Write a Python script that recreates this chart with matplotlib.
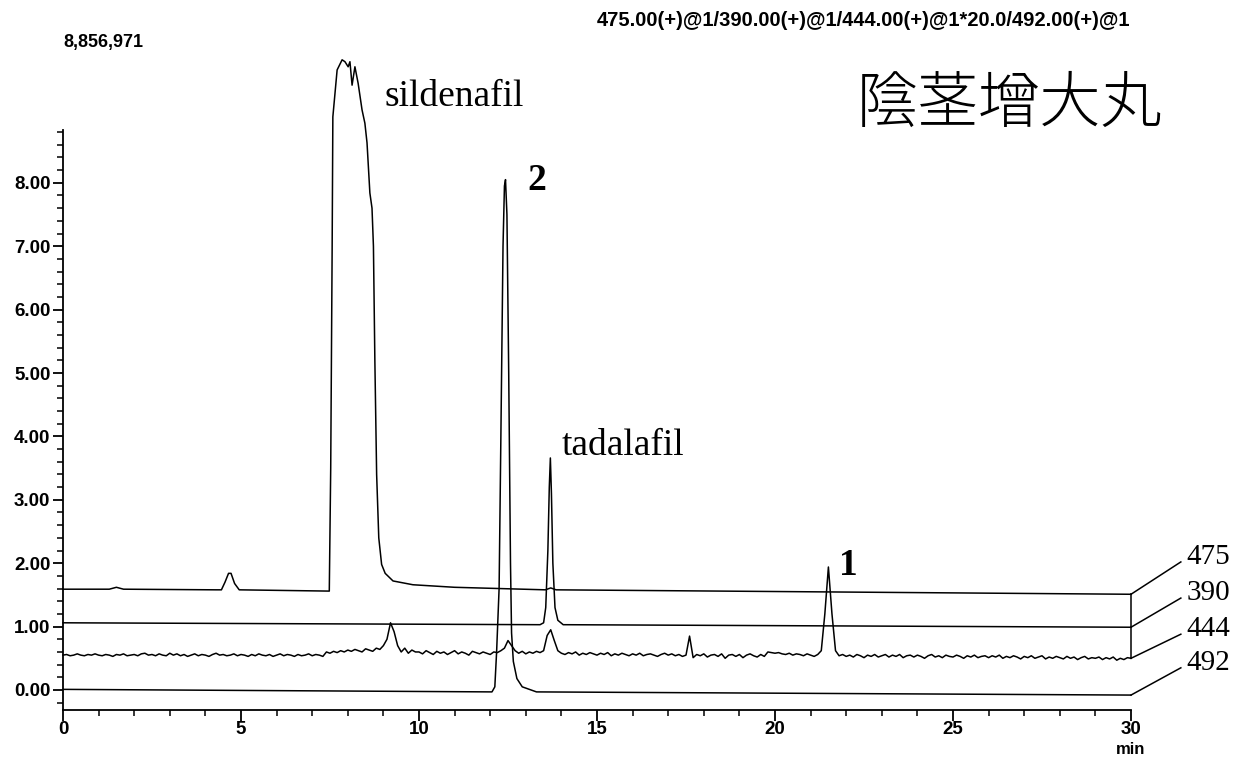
import numpy as np
import matplotlib.pyplot as plt

# --- traces (time in min, intensity x1e6 as drawn, incl. display offset) ---
# 475 (top trace, sildenafil)
t_475 = [0.0, 1.3, 1.5, 1.7, 4.3, 4.45, 4.55, 4.65, 4.72, 4.82, 4.95, 7.48,
         7.52, 7.56, 7.58, 7.70, 7.84, 7.92, 8.01, 8.06, 8.12, 8.20, 8.29,
         8.40, 8.48, 8.54, 8.62, 8.68, 8.72, 8.76, 8.81, 8.87, 8.95, 9.05,
         9.27, 9.83, 11.0, 13.55, 13.70, 13.85, 30.0]
v_475 = [1.59, 1.59, 1.62, 1.59, 1.58, 1.58, 1.70, 1.84, 1.84, 1.68, 1.58, 1.56,
         3.50, 6.94, 9.04, 9.78, 9.94, 9.91, 9.83, 9.91, 9.54, 9.83, 9.57,
         9.15, 8.94, 8.63, 7.84, 7.60, 7.00, 5.20, 3.40, 2.40, 1.98, 1.84,
         1.72, 1.66, 1.62, 1.58, 1.61, 1.58, 1.51]

# 390 (tadalafil)
t_390 = [0.0, 13.40, 13.50, 13.56, 13.62, 13.66, 13.69, 13.72, 13.76, 13.82,
         13.90, 14.05, 30.0]
v_390 = [1.06, 1.03, 1.06, 1.30, 2.20, 3.20, 3.66, 3.10, 2.00, 1.30,
         1.10, 1.03, 0.99]

# 444 (x20, noisy, peak 1) sampled every 0.1 min
t_444 = np.round(np.arange(0, 30.01, 0.1), 1)
v_444 = [
    0.55, 0.56, 0.54, 0.55, 0.57, 0.55, 0.54, 0.56, 0.55, 0.57,
    0.55, 0.54, 0.56, 0.55, 0.53, 0.56, 0.55, 0.57, 0.54, 0.55,
    0.56, 0.54, 0.57, 0.58, 0.55, 0.56, 0.54, 0.57, 0.55, 0.54,
    0.58, 0.55, 0.57, 0.54, 0.56, 0.53, 0.55, 0.57, 0.54, 0.56,
    0.55, 0.53, 0.56, 0.58, 0.55, 0.56, 0.54, 0.55, 0.57, 0.54,
    0.56, 0.55, 0.53, 0.56, 0.54, 0.57, 0.55, 0.54, 0.56, 0.53,
    0.55, 0.57, 0.54, 0.56, 0.55, 0.53, 0.56, 0.54, 0.55, 0.57,
    0.54, 0.56, 0.55, 0.53, 0.60, 0.58, 0.61, 0.59, 0.62, 0.60,
    0.63, 0.61, 0.64, 0.62, 0.60, 0.65, 0.63, 0.61, 0.66, 0.64,
    0.70, 0.80, 1.06, 0.92, 0.70, 0.60, 0.66, 0.58, 0.63, 0.60,
    0.60, 0.57, 0.62, 0.59, 0.56, 0.61, 0.58, 0.60, 0.56, 0.59,
    0.62, 0.57, 0.60, 0.58, 0.55, 0.61, 0.59, 0.57, 0.60, 0.58,
    0.56, 0.60, 0.59, 0.62, 0.66, 0.78, 0.70, 0.62, 0.58, 0.61,
    0.57, 0.60, 0.58, 0.61, 0.59, 0.62, 0.86, 0.95, 0.78, 0.62,
    0.58, 0.56, 0.59, 0.57, 0.60, 0.55, 0.58, 0.56, 0.59, 0.57,
    0.55, 0.58, 0.56, 0.59, 0.54, 0.57, 0.55, 0.58, 0.56, 0.54,
    0.57, 0.55, 0.58, 0.54, 0.56, 0.57, 0.55, 0.53, 0.56, 0.58,
    0.55, 0.57, 0.54, 0.56, 0.53, 0.55, 0.85, 0.51, 0.56, 0.54,
    0.57, 0.52, 0.55, 0.56, 0.53, 0.57, 0.50, 0.55, 0.56, 0.53,
    0.56, 0.51, 0.55, 0.57, 0.54, 0.52, 0.56, 0.53, 0.60, 0.59,
    0.58, 0.59, 0.57, 0.56, 0.58, 0.55, 0.57, 0.56, 0.54, 0.57,
    0.55, 0.53, 0.56, 0.62, 1.20, 1.94, 1.20, 0.62, 0.54, 0.56,
    0.53, 0.55, 0.52, 0.56, 0.54, 0.51, 0.55, 0.53, 0.56, 0.52,
    0.54, 0.56, 0.52, 0.55, 0.53, 0.56, 0.51, 0.54, 0.55, 0.52,
    0.55, 0.53, 0.50, 0.54, 0.56, 0.52, 0.54, 0.51, 0.55, 0.53,
    0.52, 0.55, 0.53, 0.50, 0.54, 0.52, 0.55, 0.51, 0.53, 0.54,
    0.51, 0.54, 0.52, 0.55, 0.50, 0.53, 0.51, 0.54, 0.52, 0.49,
    0.53, 0.51, 0.54, 0.50, 0.52, 0.54, 0.49, 0.52, 0.50, 0.53,
    0.51, 0.49, 0.53, 0.50, 0.52, 0.48, 0.51, 0.53, 0.49, 0.51,
    0.50, 0.52, 0.48, 0.51, 0.49, 0.52, 0.47, 0.50, 0.48, 0.51,
    0.50]

# 492 (bottom trace, peak 2)
t_492 = [0.0, 6.0, 12.05, 12.13, 12.18, 12.25, 12.30, 12.36, 12.40, 12.43,
         12.47, 12.52, 12.57, 12.60, 12.65, 12.75, 12.90, 13.3, 30.0]
v_492 = [0.01, -0.01, -0.03, 0.05, 0.60, 1.60, 4.00, 7.00, 7.95, 8.05,
         7.50, 5.00, 2.00, 0.90, 0.45, 0.18, 0.05, -0.03, -0.08]

trace_names = ["475", "390", "444", "492"]
label_y = [2.10, 1.53, 0.96, 0.43]

header = "475.00(+)@1/390.00(+)@1/444.00(+)@1*20.0/492.00(+)@1"
max_int = "8,856,971"

# --- figure ---
W, H = 1234, 760
fig = plt.figure(figsize=(W / 100, H / 100), dpi=100)
px_min = 35.6      # pixels per minute
px_unit = 63.4     # pixels per y unit
x0_px, y0_px = 63, 690
ymin, ymax = -0.32, 10.6
bot_px = y0_px - ymin * px_unit
top_px = y0_px - ymax * px_unit
ax = fig.add_axes([x0_px / W, (H - bot_px) / H, (W - x0_px) / W, (bot_px - top_px) / H])
ax.set_xlim(0, (W - x0_px) / px_min)
ax.set_ylim(ymin, ymax)

lw = 1.1
for t, v in [(t_475, v_475), (t_390, v_390), (t_444, v_444), (t_492, v_492)]:
    ax.plot(t, v, color="black", lw=lw, clip_on=False)

# right-hand box and channel labels
ends = [v_475[-1], v_390[-1], v_444[-1], v_492[-1]]
ax.plot([30, 30], [ends[0], ends[2]], color="black", lw=lw, clip_on=False)
for name, e, ly in zip(trace_names, ends, label_y):
    ax.plot([30, 31.4], [e, ly - 0.08], color="black", lw=lw, clip_on=False)
    ax.text(31.55, ly, name, fontsize=21, family="Liberation Serif",
            ha="left", va="center", clip_on=False)

# spines / ticks
for s in ["top", "right"]:
    ax.spines[s].set_visible(False)
ax.spines["left"].set_bounds(ymin, 8.83)
ax.spines["bottom"].set_bounds(0, 30)
ax.spines["left"].set_linewidth(1.3)
ax.spines["bottom"].set_linewidth(1.3)

ax.set_yticks(range(0, 9))
ax.set_yticklabels([f"{i:.2f}" for i in range(0, 9)])
ax.set_yticks([round(y, 1) for y in np.arange(-0.2, 8.85, 0.2) if abs(y - round(y)) > 0.05], minor=True)
ax.set_xticks(range(0, 31, 5))
ax.set_xticks([i for i in range(1, 30) if i % 5], minor=True)
ax.tick_params(axis="both", which="major", direction="out", length=7, width=1.3,
               labelsize=13.5, pad=2)
ax.tick_params(axis="both", which="minor", direction="out", length=4, width=1.1)
ax.tick_params(axis="x", which="major", length=8, pad=0)
for lab in ax.get_xticklabels() + ax.get_yticklabels():
    lab.set_fontweight("bold")
    lab.set_family("Liberation Sans")

# annotations
serif = "Liberation Serif"
ax.text(9.04, 9.35, "sildenafil", fontsize=27, family=serif, ha="left", va="center")
ax.text(14.02, 3.86, "tadalafil", fontsize=27, family=serif, ha="left", va="center")
ax.text(13.31, 8.04, "2", fontsize=27, family=serif, fontweight="bold", ha="center", va="center")
ax.text(22.05, 1.97, "1", fontsize=27, family=serif, fontweight="bold", ha="center", va="center")
ax.text(22.3, 9.23, "陰茎增大丸", fontsize=44, family=["Noto Sans CJK JP", "DejaVu Sans"],
        fontweight="light", ha="left", va="center")

fig.text(1130 / W, 1 - 20 / H, header, fontsize=14.5, fontweight="bold",
         family="Liberation Sans", ha="right", va="center")
fig.text(63 / W, 1 - 42 / H, max_int, fontsize=13, fontweight="bold",
         family="Liberation Sans", ha="left", va="center")
fig.text(1131 / W, 1 - 749 / H, "min", fontsize=12, fontweight="bold",
         family="Liberation Sans", ha="center", va="center")

fig.savefig("out.png", dpi=100, facecolor="white")
